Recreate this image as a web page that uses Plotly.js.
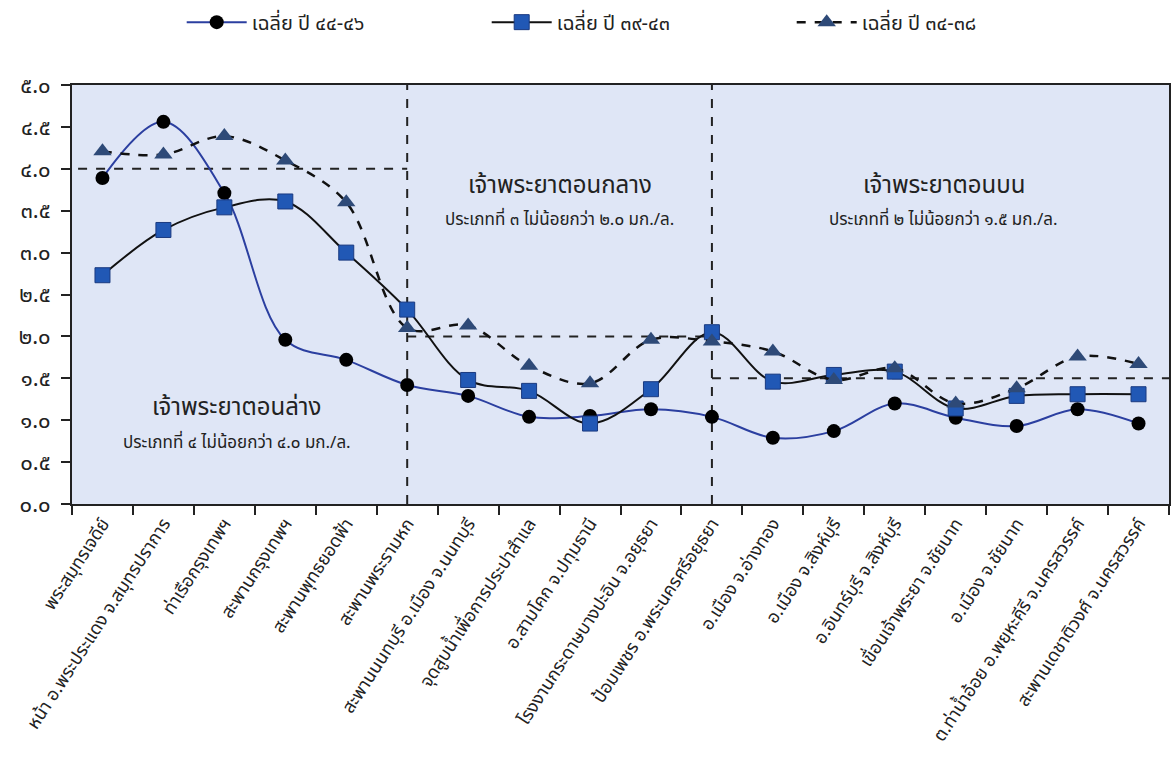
<!DOCTYPE html>
<html>
<head>
<meta charset="utf-8">
<script src="https://cdn.plot.ly/plotly-3.0.1.min.js"></script>
<style>
html,body{margin:0;padding:0;background:#fff;}
#chart{width:1171px;height:767px;}
</style>
</head>
<body>
<div id="chart"></div>
<script>
// ---- data ----
const stations = [
  "พระสมุทรเจดีย์",
  "หน้า อ.พระประแดง จ.สมุทรปราการ",
  "ท่าเรือกรุงเทพฯ",
  "สะพานกรุงเทพฯ",
  "สะพานพุทธยอดฟ้า",
  "สะพานพระรามหก",
  "สะพานนนทบุรี อ.เมือง จ.นนทบุรี",
  "จุดสูบน้ำเพื่อการประปาสำแล",
  "อ.สามโคก จ.ปทุมธานี",
  "โรงงานกระดาษบางปะอิน จ.อยุธยา",
  "ป้อมเพชร อ.พระนครศรีอยุธยา",
  "อ.เมือง จ.อ่างทอง",
  "อ.เมือง จ.สิงห์บุรี",
  "อ.อินทร์บุรี จ.สิงห์บุรี",
  "เขื่อนเจ้าพระยา จ.ชัยนาท",
  "อ.เมือง จ.ชัยนาท",
  "ต.ท่าน้ำอ้อย อ.พยุหะคีรี จ.นครสวรรค์",
  "สะพานเดชาติวงศ์ จ.นครสวรรค์"
];
const seriesNames = ["เฉลี่ย ปี ๔๔-๔๖", "เฉลี่ย ปี ๓๙-๔๓", "เฉลี่ย ปี ๓๔-๓๘"];
const avg4446 = [3.89, 4.56, 3.71, 1.96, 1.72, 1.42, 1.29, 1.04, 1.05, 1.13, 1.04, 0.79, 0.87, 1.20, 1.03, 0.93, 1.13, 0.96];
const avg3943 = [2.73, 3.27, 3.54, 3.61, 3.00, 2.32, 1.48, 1.35, 0.96, 1.37, 2.05, 1.46, 1.54, 1.58, 1.14, 1.29, 1.31, 1.31];
const avg3438 = [4.21, 4.17, 4.39, 4.10, 3.60, 2.10, 2.13, 1.65, 1.44, 1.96, 1.94, 1.82, 1.48, 1.62, 1.20, 1.38, 1.76, 1.67];

const yTickVals = [0, 0.5, 1, 1.5, 2, 2.5, 3, 3.5, 4, 4.5, 5];
const yTickText = ["๐.๐", "๐.๕", "๑.๐", "๑.๕", "๒.๐", "๒.๕", "๓.๐", "๓.๕", "๔.๐", "๔.๕", "๕.๐"];

// river zones: boundaries (category index), standard values, labels
const zoneStart = [-0.4, 5, 10];
const zoneEnd = [5, 10, 17.5];
const zoneStandard = [4.0, 2.0, 1.5];
const zoneTitle = ["เจ้าพระยาตอนล่าง", "เจ้าพระยาตอนกลาง", "เจ้าพระยาตอนบน"];
const zoneSub = ["ประเภทที่ ๔ ไม่น้อยกว่า ๔.๐ มก./ล.", "ประเภทที่ ๓ ไม่น้อยกว่า ๒.๐ มก./ล.", "ประเภทที่ ๒ ไม่น้อยกว่า ๑.๕ มก./ล."];
const zoneLabelX = [2.2, 7.5, 13.8];
const zoneLabelY = [1.14, 3.80, 3.80];
const zoneDividers = [5, 10];

// ---- chart ----
const FONT = "'Noto Sans Thai', 'Noto Sans', 'DejaVu Sans', sans-serif";

const traces = [
  {
    x: stations, y: avg4446, name: seriesNames[0], type: "scatter", mode: "lines+markers",
    line: {color: "#2b3fa0", width: 2, shape: "spline", smoothing: 1},
    marker: {symbol: "circle", size: 14, color: "#000000"}
  },
  {
    x: stations, y: avg3943, name: seriesNames[1], type: "scatter", mode: "lines+markers",
    line: {color: "#111111", width: 2, shape: "spline", smoothing: 1},
    marker: {symbol: "square", size: 15, color: "#2158b5", line: {color: "#1a3a80", width: 1}}
  },
  {
    x: stations, y: avg3438, name: seriesNames[2], type: "scatter", mode: "lines+markers",
    line: {color: "#111111", width: 2.5, dash: "dash", shape: "spline", smoothing: 1},
    marker: {symbol: "triangle-up", size: 16, color: "#2e4a78"}
  }
];

const shapes = [];
zoneStandard.forEach((v, i) => {
  shapes.push({type: "line", xref: "x", yref: "y", x0: zoneStart[i], x1: zoneEnd[i], y0: v, y1: v,
    line: {color: "#222", width: 2, dash: "dash"}, layer: "below"});
});
zoneDividers.forEach(d => {
  shapes.push({type: "line", xref: "x", yref: "paper", x0: d, x1: d, y0: 0, y1: 1,
    line: {color: "#222", width: 2, dash: "dash"}, layer: "below"});
});

const annotations = [];
zoneTitle.forEach((t, i) => {
  annotations.push({x: zoneLabelX[i], y: zoneLabelY[i], xref: "x", yref: "y", text: t, showarrow: false,
    font: {size: 24, color: "#222", family: FONT}});
  annotations.push({x: zoneLabelX[i], y: zoneLabelY[i] - 0.41, xref: "x", yref: "y", text: zoneSub[i], showarrow: false,
    font: {size: 17, color: "#222", family: FONT}});
});

const layout = {
  width: 1171, height: 767,
  margin: {l: 72, r: 2, t: 85, b: 263},
  paper_bgcolor: "#ffffff",
  plot_bgcolor: "#dfe6f6",
  font: {family: FONT, color: "#222", size: 15},
  showlegend: true,
  legend: {orientation: "h", x: 0.1, xanchor: "left", y: 1.15, yanchor: "middle",
    font: {size: 20, family: FONT, color: "#222"}, itemwidth: 60, entrywidth: 230, entrywidthmode: "pixels",
    bgcolor: "rgba(0,0,0,0)"},
  xaxis: {
    type: "category", range: [-0.5, 17.5], tickangle: -57, tickson: "boundaries",
    ticks: "outside", ticklen: 9, tickwidth: 2, tickcolor: "#222",
    showline: true, linecolor: "#222", linewidth: 2, mirror: true,
    showgrid: false, zeroline: false, automargin: false,
    tickfont: {size: 18, family: FONT, color: "#222"}
  },
  yaxis: {
    range: [0, 5], tickvals: yTickVals, ticktext: yTickText,
    ticks: "outside", ticklen: 9, tickwidth: 2, tickcolor: "#222",
    showline: true, linecolor: "#222", linewidth: 2, mirror: true,
    showgrid: false, zeroline: false, automargin: false, ticklabelstandoff: 6,
    tickfont: {size: 22, family: FONT, color: "#222"}
  },
  shapes: shapes,
  annotations: annotations
};

Plotly.newPlot("chart", traces, layout, {displayModeBar: false, staticPlot: true});
</script>
</body>
</html>
